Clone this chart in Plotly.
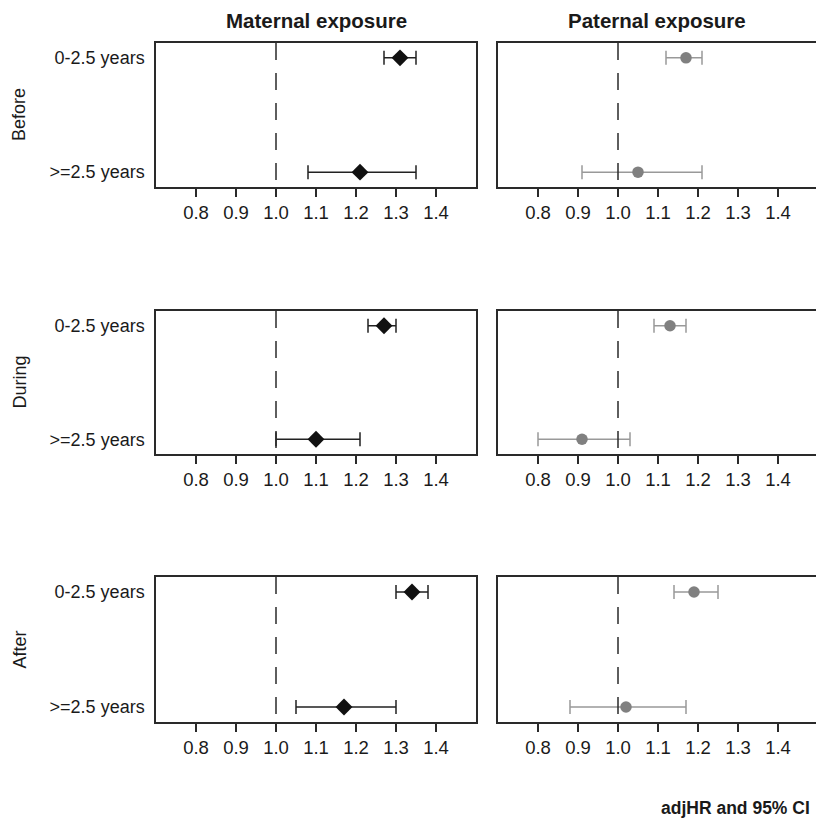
import plotly.graph_objects as go

# ---- data ----
periods = ["Before", "During", "After"]
categories = ["0-2.5 years", ">=2.5 years"]
x_ticks = [0.8, 0.9, 1.0, 1.1, 1.2, 1.3, 1.4]
x_tick_labels = ["0.8", "0.9", "1.0", "1.1", "1.2", "1.3", "1.4"]

# maternal: [period][category] -> hr, lo, hi
maternal_hr = [[1.31, 1.21], [1.27, 1.10], [1.34, 1.17]]
maternal_lo = [[1.27, 1.08], [1.23, 1.00], [1.30, 1.05]]
maternal_hi = [[1.35, 1.35], [1.30, 1.21], [1.38, 1.30]]

paternal_hr = [[1.17, 1.05], [1.13, 0.91], [1.19, 1.02]]
paternal_lo = [[1.12, 0.91], [1.09, 0.80], [1.14, 0.88]]
paternal_hi = [[1.21, 1.21], [1.17, 1.03], [1.25, 1.17]]

ref_line = 1.0

W, H = 816, 819
FONT = "Liberation Sans, Arial, sans-serif"
AX = "#2a2a2a"
TXT = "#1a1a1a"

# panel geometry (pixels)
col_x = [(156, 476), (498, 816)]
row_y = [(43, 187), (311, 454), (577, 722)]
px_per_unit = 400.0

fig = go.Figure()

ypos = [1, 0]  # category positions (top, bottom)

for r in range(3):
    for c in range(2):
        idx = r * 2 + c + 1
        xa = "x" if idx == 1 else f"x{idx}"
        ya = "y" if idx == 1 else f"y{idx}"
        if c == 0:
            hr, lo, hi = maternal_hr[r], maternal_lo[r], maternal_hi[r]
            mk = dict(symbol="diamond", size=13, color="#111111")
            ecol = "#222222"
        else:
            hr, lo, hi = paternal_hr[r], paternal_lo[r], paternal_hi[r]
            mk = dict(symbol="circle", size=11.5, color="#808080")
            ecol = "#999999"
        fig.add_trace(go.Scatter(
            x=hr, y=ypos, mode="markers", marker=mk,
            error_x=dict(type="data", symmetric=False,
                         array=[h - v for h, v in zip(hi, hr)],
                         arrayminus=[v - l for v, l in zip(hr, lo)],
                         color=ecol, thickness=1.5, width=7),
            xaxis=xa, yaxis=ya, showlegend=False, hoverinfo="skip"))

        x0p, x1p = col_x[c]
        y0p, y1p = row_y[r]
        xr = [0.7, 0.7 + (x1p - x0p) / px_per_unit]
        xkey = "xaxis" if idx == 1 else f"xaxis{idx}"
        ykey = "yaxis" if idx == 1 else f"yaxis{idx}"
        fig.layout[xkey] = dict(
            domain=[x0p / W, x1p / W], range=xr, anchor=ya,
            tickvals=x_ticks, ticktext=x_tick_labels,
            ticks="outside", ticklen=8, tickwidth=1.5, tickcolor=AX,
            showline=True, linecolor=AX, linewidth=1.5, mirror=True,
            showgrid=False, zeroline=False, automargin=False,
            tickfont=dict(family=FONT, size=18.5, color=TXT))
        fig.layout[ykey] = dict(
            domain=[1 - y1p / H, 1 - y0p / H], range=[-0.13, 1.13], anchor=xa,
            tickvals=ypos, ticktext=categories if c == 0 else ["", ""],
            showticklabels=(c == 0),
            ticks="outside", ticklen=6, tickcolor="rgba(0,0,0,0)",
            showline=True, linecolor=AX, linewidth=1.5, mirror=(c == 0),
            showgrid=False, zeroline=False, automargin=False,
            tickfont=dict(family=FONT, size=18, color=TXT))
        fig.add_shape(type="line", xref=xa, yref=f"{ya} domain",
                      x0=ref_line, x1=ref_line, y0=1, y1=0,
                      line=dict(color=AX, width=1.5, dash="17px,13px"))

annos = []
annos.append(dict(text="<b>Maternal exposure</b>", x=316 / W, y=1 - 20 / H,
                  xref="paper", yref="paper", showarrow=False,
                  xanchor="center", yanchor="middle",
                  font=dict(family=FONT, size=20.5, color=TXT)))
annos.append(dict(text="<b>Paternal exposure</b>", x=657 / W, y=1 - 20 / H,
                  xref="paper", yref="paper", showarrow=False,
                  xanchor="center", yanchor="middle",
                  font=dict(family=FONT, size=20.5, color=TXT)))
for r, name in enumerate(periods):
    yc = (row_y[r][0] + row_y[r][1]) / 2
    annos.append(dict(text=name, x=19 / W, y=1 - yc / H, xref="paper", yref="paper",
                      showarrow=False, textangle=-90,
                      xanchor="center", yanchor="middle",
                      font=dict(family=FONT, size=18, color=TXT)))
annos.append(dict(text="<b>adjHR and 95% CI</b>", x=812 / W, y=1 - 808 / H,
                  xref="paper", yref="paper", showarrow=False,
                  xanchor="right", yanchor="middle",
                  font=dict(family=FONT, size=17.5, color=TXT)))

fig.update_layout(width=W, height=H, margin=dict(l=0, r=0, t=0, b=0),
                  plot_bgcolor="white", paper_bgcolor="white",
                  annotations=annos, font=dict(family=FONT))

fig.write_html("out.html", config={"displayModeBar": False},
               post_script="document.body.style.margin='0px';")
